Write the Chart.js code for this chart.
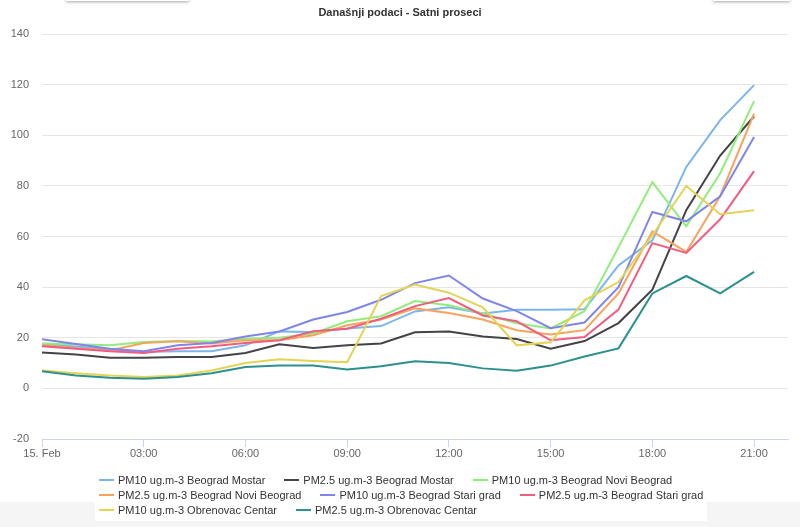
<!DOCTYPE html>
<html>
<head>
<meta charset="utf-8">
<script src="https://cdn.jsdelivr.net/npm/chart.js@4.4.0/dist/chart.umd.min.js"></script>
<style>
    html, body { margin: 0; padding: 0; }
    body { width: 800px; height: 527px; position: relative; overflow: hidden; background: #fff; font-family: "Liberation Sans", Arial, sans-serif; }
    .grey-strip { position: absolute; left: 0; top: 502px; width: 800px; height: 25px; background: #f5f5f5; }
    .top-box { position: absolute; top: -20px; height: 21px; background: #fff; box-shadow: 0 1px 3px rgba(0,0,0,0.35); }
    #chartWrap { position: absolute; left: 0; top: 0; width: 800px; height: 470px; }
    #title { position: absolute; left: 0; top: 6px; width: 800px; text-align: center; font-weight: bold; font-size: 11px; color: #333; }
    #legendBox { position: absolute; left: 95px; top: 468px; width: 612px; height: 53px; background: #fff; }
    .legend-row { position: absolute; left: 4px; display: flex; white-space: nowrap; }
    .legend-item { display: flex; align-items: center; margin-right: 19px; font-size: 11px; color: #333; }
    .legend-item .sym { width: 15px; height: 2px; margin-right: 4px; }
</style>
</head>
<body>
<div class="grey-strip"></div>
<div class="top-box" style="left:66px; width:123px;"></div>
<div class="top-box" style="left:713px; width:77px;"></div>
<div id="chartWrap"><canvas id="chart" width="800" height="470"></canvas></div>
<div id="title">Današnji podaci - Satni proseci</div>
<div id="legendBox"></div>

<script>
// Sati (15. Feb), 00:00 - 21:00
const hours = [0, 1, 2, 3, 4, 5, 6, 7, 8, 9, 10, 11, 12, 13, 14, 15, 16, 17, 18, 19, 20, 21];
const xTickHours = [0, 3, 6, 9, 12, 15, 18, 21];

const seriesNames = [
    'PM10 ug.m-3 Beograd Mostar',
    'PM2.5 ug.m-3 Beograd Mostar',
    'PM10 ug.m-3 Beograd Novi Beograd',
    'PM2.5 ug.m-3 Beograd Novi Beograd',
    'PM10 ug.m-3 Beograd Stari grad',
    'PM2.5 ug.m-3 Beograd Stari grad',
    'PM10 ug.m-3 Obrenovac Centar',
    'PM2.5 ug.m-3 Obrenovac Centar'
];

const pm10Mostar      = [17.5, 16.5, 15.5, 14.4, 14.7, 14.7, 17.0, 22.5, 22.3, 23.7, 24.6, 30.4, 32.0, 29.6, 31.1, 31.1, 31.3, 48.6, 58.5, 87.5, 106.0, 119.8];
const pm25Mostar      = [14.2, 13.4, 12.1, 12.1, 12.4, 12.4, 14.0, 17.4, 16.0, 17.0, 17.7, 22.2, 22.5, 20.5, 19.5, 15.7, 18.7, 25.8, 39.0, 70.4, 92.0, 107.5];
const pm10NoviBgd     = [17.7, 17.4, 17.0, 18.3, 18.7, 18.5, 19.6, 20.0, 21.7, 26.5, 28.5, 34.5, 32.8, 29.6, 25.7, 23.7, 30.5, 55.7, 81.5, 64.0, 85.0, 113.5];
const pm25NoviBgd     = [17.0, 16.0, 15.0, 17.9, 18.6, 17.7, 19.0, 19.0, 21.0, 24.9, 27.2, 31.6, 29.8, 27.2, 23.0, 21.3, 23.0, 37.5, 62.0, 53.9, 76.0, 108.5];
const pm10StariGrad   = [19.4, 17.5, 15.7, 14.7, 17.0, 17.9, 20.5, 22.5, 27.2, 30.2, 35.0, 41.6, 44.6, 35.5, 30.5, 23.8, 26.0, 40.0, 69.7, 66.0, 75.9, 99.3];
const pm25StariGrad   = [16.6, 15.7, 14.7, 14.0, 15.7, 16.6, 17.9, 19.0, 22.6, 23.6, 27.5, 32.5, 35.7, 28.8, 26.5, 19.0, 20.3, 31.1, 57.4, 53.5, 66.8, 85.8];
const pm10Obrenovac   = [7.1, 6.0, 5.1, 4.5, 5.1, 7.1, 10.0, 11.5, 10.8, 10.3, 36.5, 41.0, 37.8, 32.0, 17.0, 18.2, 34.8, 42.0, 60.5, 80.0, 68.8, 70.4];
const pm25Obrenovac   = [6.8, 5.1, 4.2, 3.8, 4.5, 6.0, 8.4, 9.0, 9.0, 7.5, 8.7, 10.7, 10.0, 7.9, 7.0, 9.0, 12.6, 15.8, 37.5, 44.4, 37.5, 46.0];

const seriesValues = [pm10Mostar, pm25Mostar, pm10NoviBgd, pm25NoviBgd, pm10StariGrad, pm25StariGrad, pm10Obrenovac, pm25Obrenovac];
const seriesColors = ['#7cb5ec', '#434348', '#90ed7d', '#f7a35c', '#8085e9', '#f15c80', '#e4d354', '#2b908f'];

function pad2(n) { return (n < 10 ? '0' : '') + n; }

const datasets = seriesNames.map((name, i) => ({
    label: name,
    data: hours.map((h, j) => ({ x: h, y: seriesValues[i][j] })),
    borderColor: seriesColors[i],
    backgroundColor: seriesColors[i],
    borderWidth: 2,
    pointRadius: 0,
    tension: 0,
    fill: false,
    // kasnije serije se crtaju preko ranijih (kao u Highcharts)
    order: seriesNames.length - i
}));

const chart = new Chart(document.getElementById('chart').getContext('2d'), {
    type: 'line',
    data: { datasets: datasets },
    options: {
        responsive: false,
        animation: false,
        layout: { padding: { top: 34, right: 12, left: 0, bottom: 0 } },
        plugins: {
            legend: { display: false },
            title: { display: false },
            tooltip: { enabled: false }
        },
        scales: {
            x: {
                type: 'linear',
                min: 0,
                max: 22,
                afterBuildTicks: scale => { scale.ticks = xTickHours.map(v => ({ value: v })); },
                afterFit: scale => { scale.height = 31; },
                ticks: {
                    autoSkip: false,
                    maxRotation: 0,
                    padding: 0,
                    color: '#666',
                    font: { family: 'Liberation Sans', size: 11 },
                    callback: v => v === 0 ? '15. Feb' : pad2(v) + ':00'
                },
                grid: { drawOnChartArea: false, drawTicks: true, tickLength: 8, color: '#ccd6eb' },
                border: { color: '#ccd6eb', width: 1 }
            },
            y: {
                min: -20,
                max: 140,
                afterFit: scale => { scale.width = 42; },
                ticks: {
                    stepSize: 20,
                    padding: 13,
                    color: '#666',
                    font: { family: 'Liberation Sans', size: 11 }
                },
                grid: { color: '#e6e6e6', drawTicks: false },
                border: { display: false }
            }
        }
    }
});

// Legenda (HTML), tri reda kao u originalu
const legendBox = document.getElementById('legendBox');
const rows = [[0, 1, 2], [3, 4, 5], [6, 7]];
rows.forEach((r, ri) => {
    const row = document.createElement('div');
    row.className = 'legend-row';
    row.style.top = (6 + ri * 15) + 'px';
    row.innerHTML = r.map(i => {
        const ds = chart.data.datasets[i];
        return `<div class="legend-item"><span class="sym" style="background:${ds.borderColor}"></span>${ds.label}</div>`;
    }).join('');
    legendBox.appendChild(row);
});
</script>
</body>
</html>
